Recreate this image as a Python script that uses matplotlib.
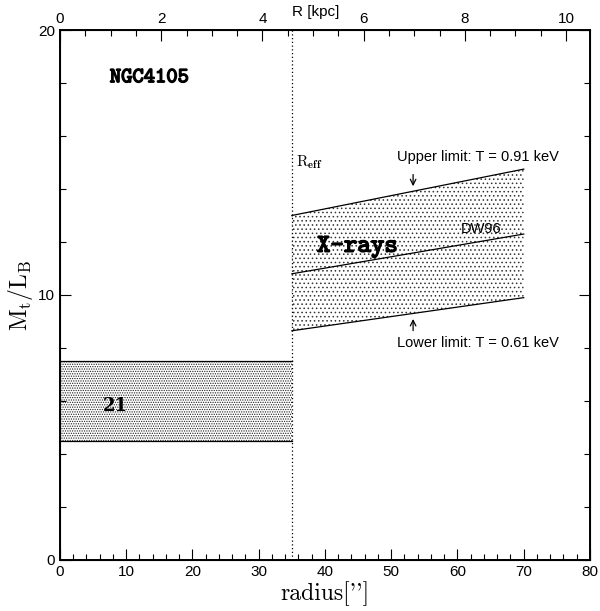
import matplotlib
matplotlib.use("Agg")
import matplotlib.pyplot as plt
import matplotlib.patheffects as pe
from matplotlib.ticker import MultipleLocator

plt.rcParams['mathtext.fontset'] = 'cm'
plt.rcParams['hatch.linewidth'] = 0.6

# radius range of each constraint (arcsec)
r_21cm = [0, 35]
r_xray = [35, 70]
r_eff = 35

# M/L band from the 21 cm data
ml_21cm_low = 4.5
ml_21cm_high = 7.5

# X-ray mass-to-light ratio at the ends of r_xray
ml_upper = [13.0, 14.75]   # T = 0.91 keV
ml_dw96 = [10.8, 12.3]
ml_lower = [8.65, 9.9]     # T = 0.61 keV

kpc_per_arcsec = 0.1309

fig = plt.figure(figsize=(6.0, 6.11), dpi=100)
ax = fig.add_axes([0.1, 0.0835, 0.8833, 0.8674])

# 21 cm band
ax.fill_between(r_21cm, ml_21cm_low, ml_21cm_high, facecolor='white',
                edgecolor='#222222', hatch='.......', linewidth=0)
ax.plot(r_21cm, [ml_21cm_high] * 2, color='black', lw=0.9)
ax.plot(r_21cm, [ml_21cm_low] * 2, color='black', lw=0.9)

# X-ray band
ax.fill_between(r_xray, ml_lower, ml_upper, facecolor='white',
                edgecolor='#333333', hatch='....', linewidth=0)
for ml in (ml_upper, ml_dw96, ml_lower):
    ax.plot(r_xray, ml, color='black', lw=0.9)

ax.axvline(r_eff, color='black', ls=(0, (1, 2)), lw=0.9)

ax.set_xlim(0, 80)
ax.set_ylim(0, 20)

# annotations
bold = [pe.withStroke(linewidth=1.0, foreground='black')]
ax.text(13.5, 18.2, 'NGC4105', family='cmtt10', fontsize=15.5,
        ha='center', va='center', path_effects=bold)
ax.text(44.9, 11.8, 'X-rays', family='cmtt10', fontsize=18.5,
        ha='center', va='center', path_effects=bold)
ax.text(8.3, 5.8, '21', family='DejaVu Serif', weight='bold',
        fontsize=13, ha='center', va='center')
ax.text(35.6, 15.0, r'$\mathrm{R}_{\mathbf{eff}}$', fontsize=11,
        ha='left', va='center')
ax.text(63.1, 15.2, 'Upper limit: T = 0.91 keV', family='Liberation Sans',
        fontsize=10.5, ha='center', va='center')
ax.text(63.1, 8.2, 'Lower limit: T = 0.61 keV', family='Liberation Sans',
        fontsize=10.5, ha='center', va='center')
ax.text(63.5, 12.5, 'DW96', family='Liberation Sans',
        fontsize=10.5, ha='center', va='center')
ax.annotate('', xy=(53.3, 14.0), xytext=(53.3, 14.65),
            arrowprops=dict(arrowstyle='->', lw=0.9, color='black'))
ax.annotate('', xy=(53.3, 9.2), xytext=(53.3, 8.55),
            arrowprops=dict(arrowstyle='->', lw=0.9, color='black'))

# axes styling
for s in ax.spines.values():
    s.set_linewidth(1.4)
ax.xaxis.set_major_locator(MultipleLocator(10))
ax.xaxis.set_minor_locator(MultipleLocator(2))
ax.yaxis.set_major_locator(MultipleLocator(10))
ax.yaxis.set_minor_locator(MultipleLocator(2))
ax.tick_params(which='both', direction='in', top=False, right=True,
               labelsize=11, width=0.8)
ax.tick_params(which='major', length=8)
ax.tick_params(which='minor', length=4)
for lab in ax.get_xticklabels() + ax.get_yticklabels():
    lab.set_family('Liberation Sans')

ax.set_xlabel("radius['']", family='cmr10', fontsize=17, labelpad=2)
ax.set_ylabel(r'$\mathrm{M_t/L_B}$', fontsize=17, labelpad=2)

# top axis in kpc
top = ax.twiny()
top.set_xlim(0, 80 * kpc_per_arcsec)
top.xaxis.set_major_locator(MultipleLocator(2))
top.xaxis.set_minor_locator(MultipleLocator(0.5))
top.tick_params(which='both', direction='in', labelsize=11, width=0.8, pad=3)
top.tick_params(which='major', length=8)
top.tick_params(which='minor', length=4)
for lab in top.get_xticklabels():
    lab.set_family('Liberation Sans')
top.text(0.482, 1.02, 'R [kpc]', transform=ax.transAxes, family='Liberation Sans',
         fontsize=11, ha='center', va='bottom')

fig.savefig('out.png', dpi=100)
